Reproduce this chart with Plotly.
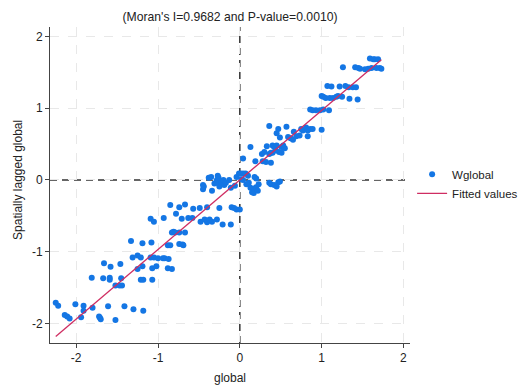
import numpy as np
import plotly.graph_objects as go

# global (x) and Wglobal (spatially lagged) values
global_vals = [
    -2.25, -2.22, -2.14, -2.11, -2.08, -2.01, -1.94, -1.91, -1.91, -1.80, -1.72, -1.70, -1.71,
    -1.61, -1.52, -1.41, -1.30, -1.18,
    -1.81, -1.67, -1.66, -1.58, -1.59, -1.59, -1.52, -1.47, -1.44, -1.45, -1.46,
    -1.33, -1.31, -1.25, -1.21, -1.19, -1.25, -1.21, -1.18, -1.19, -1.08, -1.07, -1.09,
    -1.05, -1.07, -1.02, -1.00, -0.94, -0.92, -0.87, -0.88, -0.83,
    -1.09, -1.05, -0.93, -0.88, -0.85, -0.83, -0.81, -0.79, -0.74, -0.67, -0.74, -0.70,
    -0.69, -0.78, -0.85, -0.74, -0.67, -0.71, -0.63, -0.58, -0.57, -0.49,
    -0.48, -0.43, -0.40, -0.37, -0.34, -0.28, -0.21, -0.11, -0.25, -0.10, -0.07, -0.04,
    0.00, -0.40,
    -0.45, -0.45, -0.44, -0.38, -0.35, -0.34, -0.31, -0.29, -0.28, -0.27, -0.26, -0.25,
    -0.23, -0.22, -0.20, -0.19, -0.17, -0.13, -0.11, -0.06, -0.04, -0.01, 0.01, 0.04,
    0.07, 0.10, 0.08, 0.11, 0.13, 0.15, 0.17, 0.18, 0.20, 0.22, 0.23, 0.20, 0.18,
    0.36, 0.38, 0.42, 0.45, 0.47, 0.49, 0.04, 0.02,
    0.04, 0.13, 0.19, 0.27, 0.30, 0.33, 0.36, 0.28, 0.38, 0.32, 0.36, 0.38, 0.40,
    0.42, 0.45, 0.45, 0.47, 0.49, 0.51, 0.53, 0.55, 0.48, 0.40, 0.44, 0.57, 0.59,
    0.62, 0.65, 0.66, 0.69, 0.73, 0.75, 0.77, 0.81, 0.83, 0.86, 0.89, 1.00, 0.83, 0.51,
    0.86, 0.89, 0.93, 0.98, 1.02, 1.09,
    1.00, 1.02, 1.05, 1.07, 1.12, 1.10, 1.14, 1.18, 1.20, 1.25, 1.22, 1.29, 1.33,
    1.34, 1.42, 1.38, 1.44, 1.26,
    1.41, 1.45, 1.47, 1.53, 1.57, 1.61, 1.59, 1.63, 1.65, 1.69, 1.71, 1.73, 1.67,
]
wglobal_vals = [
    -1.71, -1.75, -1.88, -1.90, -1.93, -1.73, -1.91, -1.75, -1.82, -1.78, -1.90, -1.94, -1.92,
    -1.76, -1.95, -1.76, -1.80, -1.82,
    -1.36, -1.37, -1.16, -1.21, -1.36, -1.39, -1.47, -1.47, -1.47, -1.37, -1.17,
    -0.85, -1.08, -1.05, -1.08, -1.20, -1.24, -1.39, -1.39, -0.88, -0.87, -1.39, -1.08,
    -1.08, -1.23, -1.20, -1.09, -1.09, -1.09, -1.10, -1.23, -1.24,
    -0.54, -0.58, -0.53, -0.91, -0.91, -0.73, -0.72, -0.73, -0.73, -0.73, -0.89, -0.90,
    -0.91, -0.47, -0.35, -0.38, -0.34, -0.54, -0.53, -0.53, -0.40, -0.39,
    -0.58, -0.55, -0.59, -0.55, -0.58, -0.55, -0.62, -0.62, -0.39, -0.38, -0.39, -0.41,
    -0.41, -0.38,
    -0.07, -0.13, -0.09, 0.03, 0.04, -0.15, -0.05, -0.04, 0.00, 0.06, 0.03, -0.09,
    -0.05, -0.03, 0.00, -0.07, -0.04, 0.00, -0.11, -0.08, 0.04, 0.09, 0.09, 0.09,
    0.09, 0.06, -0.06, -0.04, -0.11, -0.17, -0.18, -0.12, -0.10, -0.15, -0.06, 0.02, 0.04,
    -0.04, -0.06, -0.07, -0.09, -0.03, -0.02, 0.00, 0.01,
    0.30, 0.46, 0.26, 0.36, 0.39, 0.47, 0.75, 0.26, 0.24, 0.25, 0.36, 0.38, 0.48,
    0.46, 0.48, 0.65, 0.71, 0.59, 0.46, 0.48, 0.44, 0.39, 0.38, 0.41, 0.74, 0.60,
    0.58, 0.56, 0.67, 0.61, 0.62, 0.71, 0.69, 0.73, 0.61, 0.71, 0.71, 0.70, 0.69, 0.38,
    0.98, 0.97, 0.97, 0.97, 0.98, 0.97,
    1.17, 1.16, 1.14, 1.31, 1.30, 1.14, 1.14, 1.16, 1.17, 1.16, 1.30, 1.31, 1.29,
    1.13, 1.29, 1.29, 1.12, 1.57,
    1.57, 1.56, 1.55, 1.54, 1.55, 1.56, 1.69, 1.68, 1.68, 1.68, 1.56, 1.55, 1.56,
]
moran_i = 0.9682
p_value = 0.0010
x_ticks = [-2, -1, 0, 1, 2]
x_tick_labels = ["-2", "-1", "0", "1", "2"]
y_ticks = [-2, -1, 0, 1, 2]
y_tick_labels = ["-2", "-1", "0", "1", "2"]
x_title = "global"
y_title = "Spatially lagged global"

x = np.array(global_vals)
y = np.array(wglobal_vals)
fit_x = np.array([x.min(), x.max()])
fit_y = moran_i * fit_x

BLUE = "#1476e4"
RED = "#cf2d62"
FONT = "Liberation Sans, Arial, sans-serif"

fig = go.Figure()
fig.add_trace(go.Scatter(x=x, y=y, mode="markers", name="Wglobal",
                         marker=dict(color=BLUE, size=6, line=dict(width=0))))
fig.add_trace(go.Scatter(x=fit_x, y=fit_y, mode="lines", name="Fitted values",
                         line=dict(color=RED, width=1.3)))

# reference lines at zero
fig.add_shape(type="line", xref="x", yref="paper", x0=0, x1=0, y0=0, y1=1,
              line=dict(color="#333", width=1.5, dash="7px,5px"), layer="below")
fig.add_shape(type="line", xref="paper", yref="y", x0=0, x1=1, y0=0, y1=0,
              line=dict(color="#333", width=1.5, dash="7px,5px"), layer="below")

# axis titles as annotations (exact placement)
fig.add_annotation(text=y_title, xref="paper", yref="paper", x=-0.089, y=0.516,
                   textangle=-90, showarrow=False, xanchor="center", yanchor="middle",
                   font=dict(size=12, family=FONT, color="#222"))
fig.add_annotation(text=x_title, xref="paper", yref="paper", x=0.5, y=-0.111,
                   showarrow=False, xanchor="center", yanchor="middle",
                   font=dict(size=12, family=FONT, color="#222"))

axis_common = dict(
    showline=True, linecolor="#444", linewidth=1,
    ticks="outside", ticklen=4, tickcolor="#444",
    showgrid=True, gridcolor="#e8e8e8", griddash="dash", gridwidth=1,
    zeroline=False, tickfont=dict(size=12, color="#222", family=FONT),
    automargin=False,
)

fig.update_layout(
    width=521, height=392,
    margin=dict(l=50, r=111, t=27, b=49),
    paper_bgcolor="white", plot_bgcolor="white",
    font=dict(family=FONT, color="#222"),
    title=dict(text=f"(Moran's I={moran_i:.4f} and P-value={p_value:.4f})",
               font=dict(size=12.2, color="#222", family=FONT),
               x=0.5, xref="paper", xanchor="center",
               y=0.957, yref="container", yanchor="middle", automargin=False),
    xaxis=dict(axis_common, range=[-2.32, 2.08], tickvals=x_ticks, ticktext=x_tick_labels),
    yaxis=dict(axis_common, range=[-2.27, 2.13], tickvals=y_ticks, ticktext=y_tick_labels),
    legend=dict(xref="container", yref="container", x=0.791, y=0.531,
                xanchor="left", yanchor="middle",
                font=dict(size=11.5, family=FONT, color="#222"),
                bgcolor="rgba(0,0,0,0)", itemwidth=30, tracegroupgap=0),
    showlegend=True,
)

fig.write_html("out.html", config={"displayModeBar": False},
               post_script="document.body.style.margin='0';document.body.style.overflow='hidden';")
